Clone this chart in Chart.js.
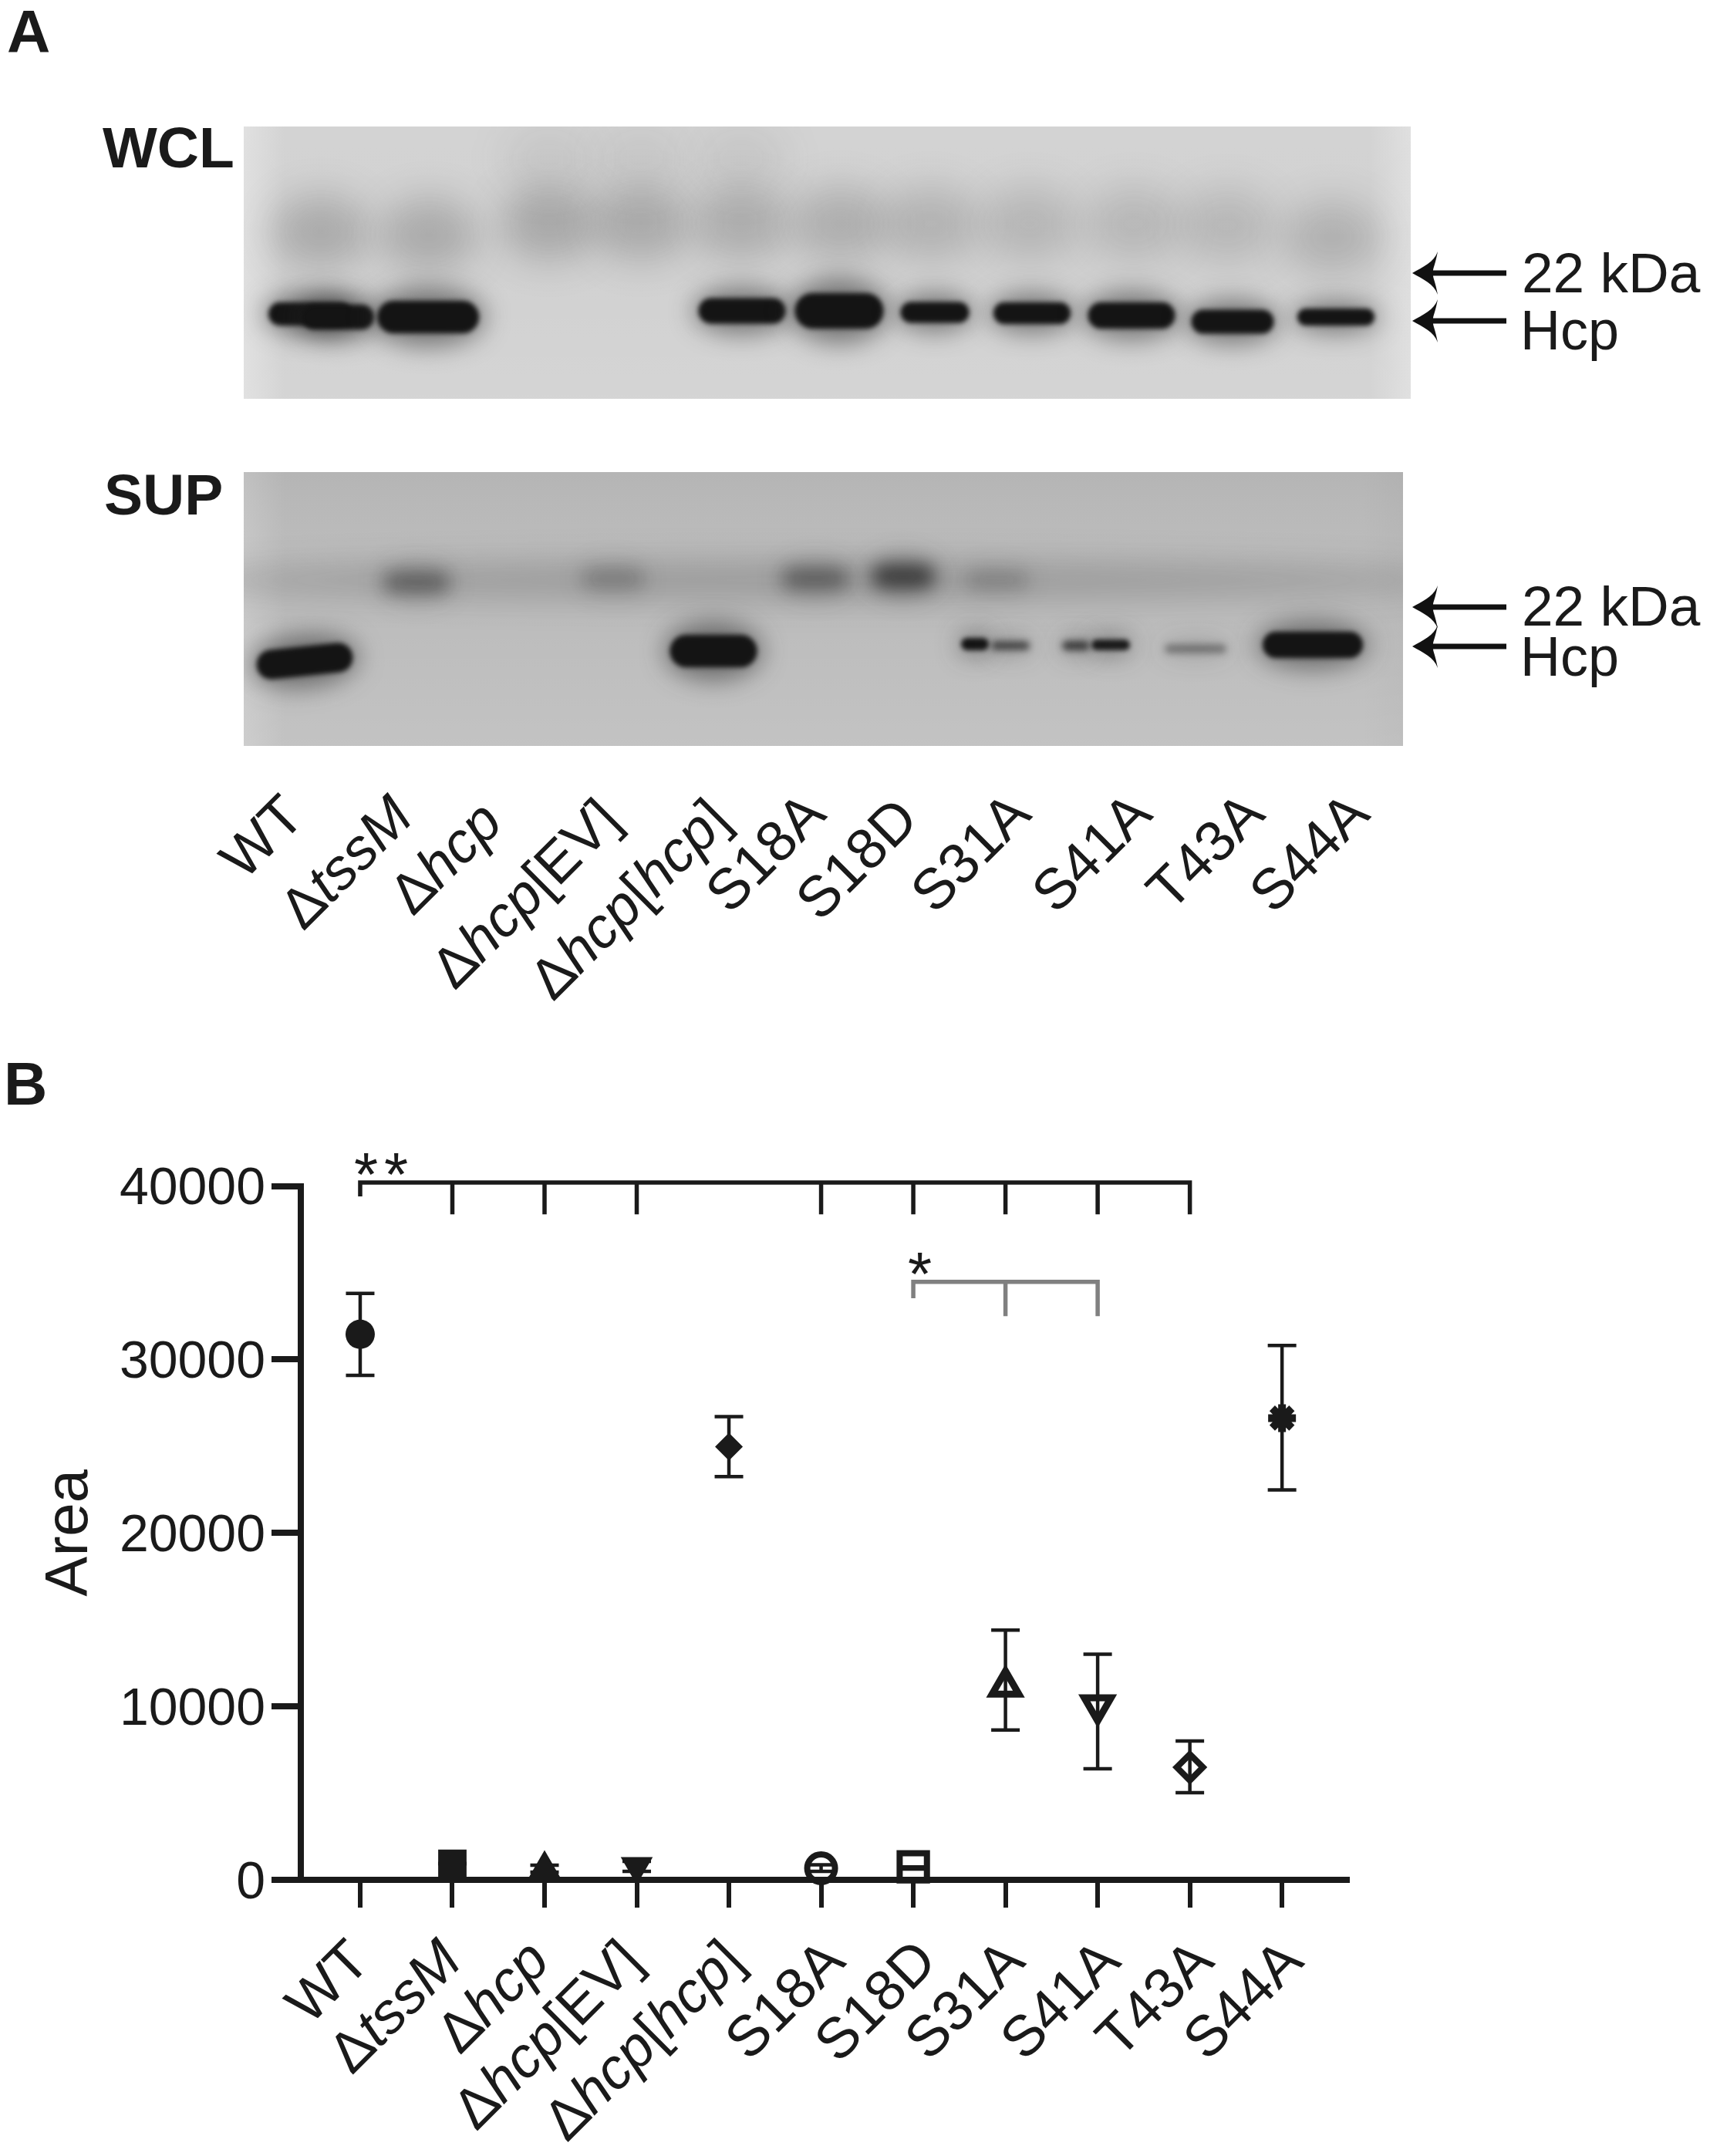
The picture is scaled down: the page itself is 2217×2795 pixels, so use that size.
<!DOCTYPE html>
<html>
<head>
<meta charset="utf-8">
<title>Hcp secretion</title>
<script src="https://cdn.jsdelivr.net/npm/chart.js@4/dist/chart.umd.min.js"></script>
<style>
  html, body { margin: 0; background: #fff; }
  #page { position: relative; width: 2217px; height: 2795px; overflow: hidden; font-family: "Liberation Sans", Arial, sans-serif; color: #1a1a1a; }
  canvas { position: absolute; display: block; }
  .txt { position: absolute; white-space: nowrap; }
  .rot { position: absolute; width: 0; height: 0; transform: rotate(-45deg); transform-origin: 0 0; }
  .rot span { position: absolute; right: 0; top: -0.575em; white-space: nowrap; }
  svg { position: absolute; left: 0; top: 0; }
</style>
</head>
<body>
<div id="page">
  <canvas id="wclChart" width="1513" height="353" style="left:316px;top:164px"></canvas>
  <canvas id="supChart" width="1503" height="355" style="left:316px;top:612px"></canvas>
  <canvas id="areaChart" width="2217" height="1395" style="left:0;top:1400px"></canvas>
  <svg id="arrows" width="2217" height="1000"></svg>
</div>
<script>
// ---------- Data ----------
const categories = ["WT", "ΔtssM", "Δhcp", "Δhcp[EV]", "Δhcp[hcp]", "S18A", "S18D", "S31A", "S41A", "T43A", "S44A"];
const italicWords = /(tssM|hcp)/;

// Panel B
const areaMean = [31450, 930, 650, 780, 24970, 670, 750, 11150, 10050, 6490, 26620];
const areaHigh = [33810, 930, 845, 1070, 26700, 870, 750, 14400, 13010, 8010, 30810];
const areaLow = [29080, 930, 450, 490, 23250, 490, 620, 8640, 6400, 5020, 22480];

// Significance brackets
const mainBracketLanes = [1, 2, 3, 4, 6, 7, 8, 9, 10];
const mainBracketEnds = [39400, 38370, 38370, 38370, 38370, 38370, 38370, 38370, 38370];
const greyBracketLanes = [7, 8, 9];
const greyBracketEnds = [33530, 32500, 32500];
const mainBracketTop = 40200;
const greyBracketTop = 34470;

// Blots: position on the gel (px from the top left corner of the membrane)
const wclBandX = [86, 122, 239, 646, 772, 896, 1022, 1151, 1282, 1416];
const wclBandY = [243, 247, 247, 239, 239, 241, 242, 245, 253, 247];
const wclBandWidth = [108, 94, 132, 113, 115, 89, 100, 113, 107, 100];
const wclBandHeight = [30, 32, 42, 33, 46, 27, 28, 34, 31, 22];
const wclBandTone = [1, 1, 1, 1, 1, 1, 1, 1, 1, 1];

const wclSmearX = [100, 240, 396, 515, 645, 774, 891, 1019, 1154, 1275, 1411, 396, 515, 645];
const wclSmearY = [136, 140, 125, 125, 125, 126, 126, 126, 126, 128, 143, 41, 41, 41];
const wclSmearAlpha = [0.24, 0.24, 0.26, 0.25, 0.23, 0.22, 0.19, 0.17, 0.16, 0.16, 0.2, 0.07, 0.07, 0.07];

const supBandX = [79, 609, 948, 994, 1079, 1124, 1234, 1386, 224, 479, 741, 855, 976];
const supBandY = [245, 232, 223, 225, 225, 224, 229, 224, 143, 138, 138, 135, 140];
const supBandWidth = [125, 113, 36, 50, 36, 50, 80, 130, 85, 80, 85, 80, 80];
const supBandHeight = [38, 42, 16, 11, 12, 14, 11, 34, 26, 24, 26, 28, 20];
const supBandTone = [1, 1, 1, 0.7, 0.75, 0.95, 0.42, 1, 0.38, 0.2, 0.38, 0.62, 0.18];
const supBandTilt = [-6, 0, 0, 0, 0, 0, 0, 0, 0, 0, 0, 0, 0];

const supSmearX = [752];
const supSmearY = [140];
const supSmearAlpha = [0.24];

// ---------- Layout of the labels ----------
const FONT = '"Liberation Sans", Arial, sans-serif';
const INK = "#1a1a1a";
const blotLabelX = [380, 521, 637, 790, 932, 1056, 1176, 1322, 1479, 1625, 1761];
const blotLabelY = [1044, 1045, 1052, 1049, 1049, 1041, 1048, 1041, 1041, 1041, 1041];
const areaLabelNudge = [-2, -2, -8, -8, 5, 16, 16, 10, 15, 16, 13];
const arrowY = [354, 416, 787, 838];

const page = document.getElementById("page");

function addText(text, x, baseline, size, weight) {
  const el = document.createElement("div");
  el.className = "txt";
  el.textContent = text;
  el.style.cssText = `left:${x}px;top:${baseline - 0.905 * size}px;font-size:${size}px;font-weight:${weight || "normal"}`;
  page.appendChild(el);
}

function addLaneLabel(text, x, y) {
  const box = document.createElement("div");
  box.className = "rot";
  box.style.cssText = `left:${x}px;top:${y}px;font-size:74px`;
  const span = document.createElement("span");
  text.split(italicWords).forEach((part, i) => {
    const run = document.createElement(i % 2 ? "i" : "b");
    run.style.fontWeight = "normal";
    run.textContent = part;
    span.appendChild(run);
  });
  box.appendChild(span);
  page.appendChild(box);
}

// ---------- Blots ----------
function makeBand(w, h, tone) {
  const pad = 80;
  const c = document.createElement("canvas");
  c.width = w + 2 * pad;
  c.height = h + 2 * pad;
  const g = c.getContext("2d");
  g.filter = "blur(16px)";
  g.fillStyle = `rgba(40,40,40,${tone * 0.55})`;
  g.beginPath();
  g.ellipse(c.width / 2, c.height / 2, w * 0.56, h * 0.9, 0, 0, Math.PI * 2);
  g.fill();
  g.filter = tone < 0.8 ? (h >= 20 ? "blur(11px)" : "blur(5px)") : "blur(3px)";
  g.fillStyle = `rgba(20,20,20,${tone})`;
  g.beginPath();
  g.roundRect(pad, pad, w, h, h * 0.5);
  g.fill();
  return c;
}

function makeSmear(w, h, alpha, blur) {
  const pad = 3 * blur;
  const c = document.createElement("canvas");
  c.width = w + 2 * pad;
  c.height = h + 2 * pad;
  const g = c.getContext("2d");
  g.filter = `blur(${blur}px)`;
  g.fillStyle = `rgba(50,50,50,${alpha})`;
  g.beginPath();
  g.ellipse(c.width / 2, c.height / 2, w / 2, h / 2, 0, 0, Math.PI * 2);
  g.fill();
  return c;
}

const membrane = {
  id: "membrane",
  beforeDatasetsDraw(chart, args, opts) {
    const { ctx, chartArea: a } = chart;
    ctx.save();
    ctx.fillStyle = opts.base;
    ctx.fillRect(a.left, a.top, a.width, a.height);
    const side = ctx.createLinearGradient(a.left, 0, a.right, 0);
    side.addColorStop(0, opts.leftEdge);
    side.addColorStop(0.035, opts.base);
    side.addColorStop(0.965, opts.base);
    side.addColorStop(1, opts.rightEdge);
    ctx.fillStyle = side;
    ctx.fillRect(a.left, a.top, a.width, a.height);
    const down = ctx.createLinearGradient(0, a.top, 0, a.bottom);
    down.addColorStop(0, opts.topTint);
    down.addColorStop(0.5, "rgba(255,255,255,0)");
    down.addColorStop(1, opts.bottomTint);
    ctx.fillStyle = down;
    ctx.fillRect(a.left, a.top, a.width, a.height);
    ctx.restore();
  },
};

function blotChart(id, w, h, bands, smears, bg) {
  return new Chart(document.getElementById(id), {
    type: "scatter",
    data: {
      datasets: [
        {
          data: bands.x.map((x, i) => ({ x, y: bands.y[i] })),
          pointStyle: bands.sprites,
          rotation: bands.tilt,
          pointRadius: 5,
        },
        {
          data: smears.x.map((x, i) => ({ x, y: smears.y[i] })),
          pointStyle: smears.sprites,
          pointRadius: 5,
        },
      ],
    },
    options: {
      responsive: false,
      animation: false,
      events: [],
      layout: { autoPadding: false },
      scales: {
        x: { display: false, min: 0, max: w },
        y: { display: false, min: 0, max: h, reverse: true },
      },
      plugins: { legend: { display: false }, tooltip: { enabled: false }, membrane: bg },
    },
    plugins: [membrane],
  });
}

blotChart(
  "wclChart",
  1513,
  353,
  {
    x: wclBandX,
    y: wclBandY,
    tilt: wclBandX.map(() => 0),
    sprites: wclBandX.map((_, i) => makeBand(wclBandWidth[i], wclBandHeight[i], wclBandTone[i])),
  },
  {
    x: wclSmearX,
    y: wclSmearY,
    sprites: wclSmearX.map((_, i) => makeSmear(125, 95, wclSmearAlpha[i], 24)),
  },
  { base: "#d1d1d1", leftEdge: "#dfdfdf", rightEdge: "#dedede", topTint: "rgba(255,255,255,0.05)", bottomTint: "rgba(255,255,255,0.08)" },
);

blotChart(
  "supChart",
  1503,
  355,
  {
    x: supBandX,
    y: supBandY,
    tilt: supBandTilt,
    sprites: supBandX.map((_, i) => makeBand(supBandWidth[i], supBandHeight[i], supBandTone[i])),
  },
  {
    x: supSmearX,
    y: supSmearY,
    sprites: supSmearX.map((_, i) => makeSmear(1700, 50, supSmearAlpha[i], 20)),
  },
  { base: "#bcbcbc", leftEdge: "#c8c8c8", rightEdge: "#b8b8b8", topTint: "rgba(0,0,0,0.04)", bottomTint: "rgba(255,255,255,0.1)" },
);

// ---------- Panel B ----------
const lanes = categories.map((_, i) => i + 1);

function bracketPath(laneList, ends, top) {
  const pts = [];
  laneList.forEach((lane, i) => {
    pts.push({ x: lane, y: top }, { x: lane, y: ends[i] }, { x: lane, y: top });
  });
  return pts;
}

const errorBars = lanes.map((lane, i) => ({
  data: [
    { x: lane, y: areaLow[i] },
    { x: lane, y: areaHigh[i] },
  ],
  showLine: true,
  borderColor: INK,
  borderWidth: 4.5,
  pointStyle: "line",
  pointRadius: 18.5,
  pointBorderColor: INK,
  pointBorderWidth: 4.5,
  clip: false,
}));

const areaChart = new Chart(document.getElementById("areaChart"), {
  type: "scatter",
  data: {
    datasets: [
      {
        data: lanes.map((lane, i) => ({ x: lane, y: areaMean[i] })),
        pointStyle: ["circle", "rect", "triangle", "triangle", "rectRot", "circle", "rect", "triangle", "triangle", "rectRot", "star"],
        rotation: [0, 0, 0, 180, 0, 0, 0, 0, 180, 0, 0],
        pointRadius: [19, 26, 24, 24, 18, 18, 25, 20, 20, 17, 18],
        pointBackgroundColor: [INK, INK, INK, INK, INK, "rgba(0,0,0,0)", "rgba(0,0,0,0)", "rgba(0,0,0,0)", "rgba(0,0,0,0)", "rgba(0,0,0,0)", INK],
        pointBorderColor: INK,
        pointBorderWidth: [0, 0, 0, 0, 0, 8, 8, 9, 9, 8, 10],
        clip: false,
      },
      ...errorBars,
      {
        data: bracketPath(mainBracketLanes, mainBracketEnds, mainBracketTop),
        showLine: true,
        borderColor: INK,
        borderWidth: 5.5,
        pointRadius: 0,
        clip: false,
      },
      {
        data: bracketPath(greyBracketLanes, greyBracketEnds, greyBracketTop),
        showLine: true,
        borderColor: "#808080",
        borderWidth: 5.5,
        pointRadius: 0,
        clip: false,
      },
    ],
  },
  options: {
    responsive: false,
    animation: false,
    events: [],
    layout: { padding: { top: 137.5, right: 470, left: 0, bottom: 0 } },
    scales: {
      x: {
        type: "linear",
        min: 0.356,
        max: 11.71,
        afterBuildTicks: (s) => {
          s.ticks = lanes.map((value) => ({ value }));
        },
        afterFit: (s) => {
          s.height = 358;
        },
        ticks: { display: false },
        border: { color: INK, width: 8 },
        grid: { drawOnChartArea: false, color: INK, lineWidth: 6, tickLength: 36, tickColor: INK, tickWidth: 6 },
      },
      y: {
        min: 0,
        max: 40000,
        afterFit: (s) => {
          s.width = 390;
        },
        ticks: { stepSize: 10000, color: INK, padding: 8, labelOffset: 5, font: { family: FONT, size: 68 }, callback: (v) => String(v) },
        border: { color: INK, width: 8 },
        grid: { drawOnChartArea: false, color: INK, lineWidth: 8, tickLength: 38, tickColor: INK, tickWidth: 8 },
        title: { display: true, text: "Area", color: INK, font: { family: FONT, size: 78 }, padding: { top: 45, bottom: 0 } },
      },
    },
    plugins: { legend: { display: false }, tooltip: { enabled: false } },
  },
});

// ---------- Text ----------
addText("A", 9, 67, 78, "bold");
addText("B", 5, 1431, 78, "bold");
addText("WCL", 133, 216, 75, "bold");
addText("SUP", 135, 666, 75, "bold");
addText("22 kDa", 1973, 378, 73);
addText("Hcp", 1971, 452, 72);
addText("22 kDa", 1973, 810, 73);
addText("Hcp", 1971, 875, 72);
addText("*", 459, 1549, 80);
addText("*", 498, 1549, 80);
addText("*", 1177, 1678, 80);

categories.forEach((name, i) => addLaneLabel(name, blotLabelX[i], blotLabelY[i]));

// Panel B labels hang off the x scale
categories.forEach((name, i) => {
  const tick = areaChart.scales.x.getPixelForValue(lanes[i]);
  addLaneLabel(name, tick + areaLabelNudge[i], 2528);
});

// ---------- Arrows ----------
const svg = document.getElementById("arrows");
arrowY.forEach((y) => {
  const t = 1831;
  const p = document.createElementNS("http://www.w3.org/2000/svg", "path");
  p.setAttribute(
    "d",
    `M${t} ${y} C${t + 14} ${y - 8} ${t + 28} ${y - 14} ${t + 33} ${y - 28} C${t + 30} ${y - 12} ${t + 27} ${y - 6} ${t + 27} ${y - 3.5} ` +
      `L1953 ${y - 3.5} L1953 ${y + 3.5} L${t + 27} ${y + 3.5} C${t + 27} ${y + 6} ${t + 30} ${y + 12} ${t + 33} ${y + 28} C${t + 28} ${y + 14} ${t + 14} ${y + 8} ${t} ${y} Z`,
  );
  p.setAttribute("fill", "#111");
  svg.appendChild(p);
});
</script>
</body>
</html>
